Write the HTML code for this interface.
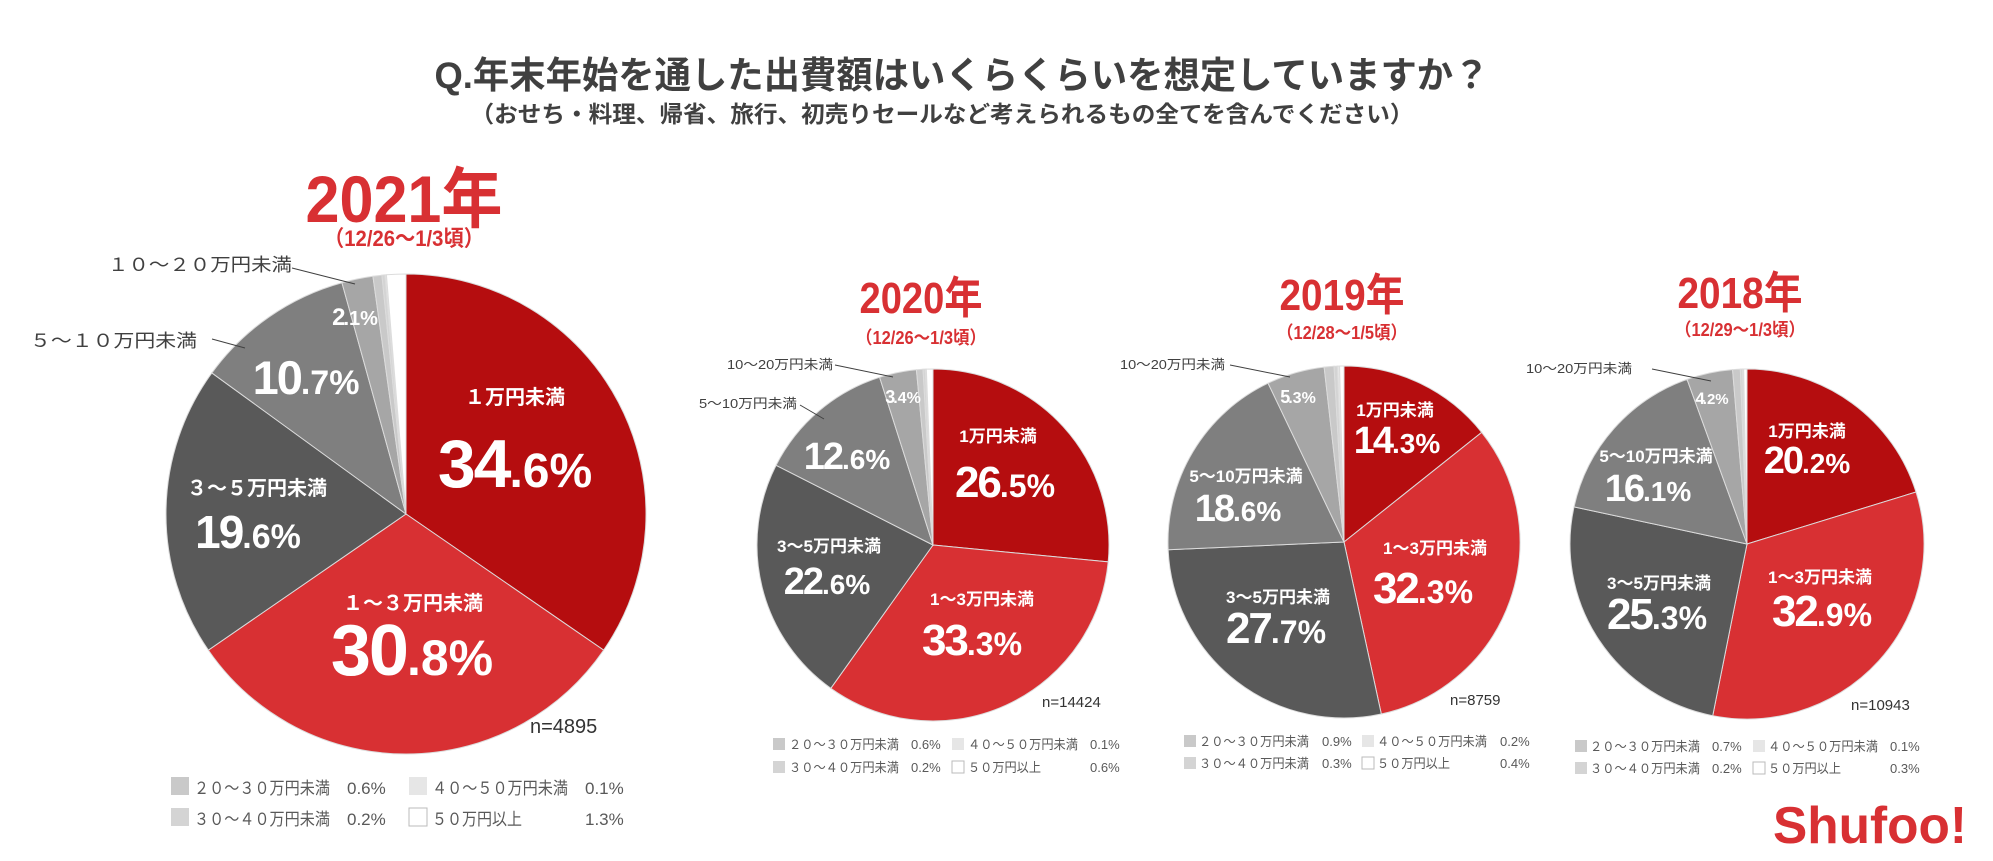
<!DOCTYPE html>
<html><head><meta charset="utf-8"><style>
body{margin:0;background:#fff;}
svg{display:block;font-family:"Liberation Sans","Noto Sans CJK JP",sans-serif;}
</style></head><body>
<svg id="c" width="1993" height="861" viewBox="0 0 1993 861">
<text x="962" y="88" text-anchor="middle" font-size="37" font-weight="bold" fill="#404040" textLength="1055" lengthAdjust="spacingAndGlyphs">Q.年末年始を通した出費額はいくらくらいを想定していますか？</text>
<text x="942" y="122" text-anchor="middle" font-size="23" font-weight="bold" fill="#404040" textLength="943" lengthAdjust="spacingAndGlyphs">（おせち・料理、帰省、旅行、初売りセールなど考えられるもの全てを含んでください）</text>
<g id="pies"></g>
<text x="1870" y="843" text-anchor="middle" font-size="52" font-weight="bold" fill="#d83033" textLength="194" lengthAdjust="spacingAndGlyphs">Shufoo!</text>
</svg>
<script>
const categories=["1万円未満","1～3万円未満","3～5万円未満","5～10万円未満","10～20万円未満","20～30万円未満","30～40万円未満","40～50万円未満","50万円以上"];
const years=["2021年","2020年","2019年","2018年"];
const periods=["（12/26～1/3頃）","（12/26～1/3頃）","（12/28～1/5頃）","（12/29～1/3頃）"];
const sampleSizes=["n=4895","n=14424","n=8759","n=10943"];
const values2021=[34.6,30.8,19.6,10.7,2.1,0.6,0.2,0.1,1.3];
const values2020=[26.5,33.3,22.6,12.6,3.4,0.6,0.2,0.1,0.6];
const values2019=[14.3,32.3,27.7,18.6,5.3,0.9,0.3,0.2,0.4];
const values2018=[20.2,32.9,25.3,16.1,4.2,0.7,0.2,0.1,0.3];
const allValues=[values2021,values2020,values2019,values2018];
const colors=["#b50d0f","#d83033","#595959","#7f7f7f","#a6a6a6","#c9c9c9","#d4d4d4","#e6e6e6","#ffffff"];
const NS="http://www.w3.org/2000/svg";
const root=document.getElementById('pies');
function el(tag,attrs,parent,txt){const e=document.createElementNS(NS,tag);for(const k in attrs)e.setAttribute(k,attrs[k]);if(txt!==undefined)e.textContent=txt;(parent||root).appendChild(e);return e;}
const geo=[
 {cx:406,cy:514,rx:240,ry:240,yx:404,yy:222,yfs:66,yw:197,dy:246,dfs:22,dw:160,
  n:[530,733,20],leg:{x1:171,x2:409,y1:777,y2:808,s:18,fs:17,tx:23,vx:176,tw:136,tw2:90},
  out:[[4,"１０～２０万円未満",108,271,292,268,355,284,18,184],[3,"５～１０万円未満",30,347,212,339,245,348,18,167]],
  inl:[[0,"１万円未満",515,404,20,"34",".6%",487,515,68,48],[1,"１～３万円未満",413,610,20,"30",".8%",675,412,72,50],[2,"３～５万円未満",257,495,20,"19",".6%",548,248,46,34],[3,null,0,0,0,"10",".7%",394,306,47,34],[4,null,0,0,0,"2",".1%",325,355,24,20]]},
 {cx:933,cy:545,rx:176,ry:176,yx:921,yy:313,yfs:44,yw:123,dy:344,dfs:18,dw:130,
  n:[1042,707,15],leg:{x1:773,x2:952,y1:738,y2:761,s:12,fs:13,tx:16,vx:138,tw:110,tw2:73},
  out:[[4,"10～20万円未満",727,369,835,365,893,377,13,106],[3,"5～10万円未満",699,408,800,405,824,419,13,98]],
  inl:[[0,"1万円未満",998,442,17,"26",".5%",497,1005,44,32],[1,"1～3万円未満",982,605,17,"33",".3%",655,972,44,32],[2,"3～5万円未満",829,552,17,"22",".6%",594,827,38,28],[3,null,0,0,0,"12",".6%",469,847,38,28],[4,null,0,0,0,"3",".4%",403,903,18,16]]},
 {cx:1344,cy:542,rx:176,ry:176,yx:1342,yy:310,yfs:44,yw:125,dy:339,dfs:18,dw:130,
  n:[1450,705,15],leg:{x1:1184,x2:1362,y1:735,y2:757,s:12,fs:13,tx:15,vx:138,tw:110,tw2:73},
  out:[[4,"10～20万円未満",1120,369,1230,365,1290,377,13,105]],
  inl:[[0,"1万円未満",1395,416,17,"14",".3%",453,1397,38,28],[1,"1～3万円未満",1435,554,17,"32",".3%",603,1423,44,32],[2,"3～5万円未満",1278,603,17,"27",".7%",643,1276,44,32],[3,"5～10万円未満",1246,482,17,"18",".6%",521,1238,38,28],[4,null,0,0,0,"5",".3%",403,1298,18,16]]},
 {cx:1747,cy:544,rx:177,ry:175,yx:1740,yy:308,yfs:44,yw:125,dy:336,dfs:18,dw:130,
  n:[1851,710,15],leg:{x1:1575,x2:1753,y1:740,y2:762,s:12,fs:13,tx:15,vx:137,tw:110,tw2:73},
  out:[[4,"10～20万円未満",1526,373,1652,369,1711,381,13,106]],
  inl:[[0,"1万円未満",1807,437,17,"20",".2%",473,1807,38,28],[1,"1～3万円未満",1820,583,17,"32",".9%",626,1822,44,32],[2,"3～5万円未満",1659,589,17,"25",".3%",629,1657,44,32],[3,"5～10万円未満",1656,462,17,"16",".1%",501,1648,38,28],[4,null,0,0,0,"4",".2%",404,1712,17,15]]}
];
allValues.forEach((vals,ci)=>{
  const g=geo[ci];
  const total=vals.reduce((a,b)=>a+b,0);
  const grp=el('g',{});
  
  
  let a0=0;
  vals.forEach((v,i)=>{
    const a1=a0+v/total*2*Math.PI;
    const x0=g.cx+g.rx*Math.sin(a0),y0=g.cy-g.ry*Math.cos(a0);
    const x1=g.cx+g.rx*Math.sin(a1),y1=g.cy-g.ry*Math.cos(a1);
    const large=(a1-a0)>Math.PI?1:0;
    const p=el('path',{d:`M${g.cx},${g.cy}L${x0},${y0}A${g.rx},${g.ry} 0 ${large} 1 ${x1},${y1}Z`,fill:colors[i],stroke:"#dcdcdc","stroke-width":1},grp);
    
    
    a0=a1;
  });
  const yt=el('text',{x:g.yx,y:g.yy,'text-anchor':'middle','font-size':g.yfs,'font-weight':'bold',fill:'#d83033',textLength:g.yw,lengthAdjust:'spacingAndGlyphs'},grp,years[ci]);
  
  
  const dt=el('text',{x:g.yx,y:g.dy,'text-anchor':'middle','font-size':g.dfs,'font-weight':'bold',fill:'#d83033',textLength:g.dw,lengthAdjust:'spacingAndGlyphs'},grp,periods[ci]);
  
  
  const nt=el('text',{x:g.n[0],y:g.n[1],'font-size':g.n[2],fill:'#333'},grp,sampleSizes[ci]);
  
  
  g.out.forEach(o=>{
    const t=el('text',{x:o[2],y:o[3],'font-size':o[8],fill:'#404040',textLength:o[9],lengthAdjust:'spacingAndGlyphs'},grp,o[1]);
    
    
    const l=el('line',{x1:o[4],y1:o[5],x2:o[6],y2:o[7],stroke:'#404040','stroke-width':1},grp);
    
    
  });
  g.inl.forEach(o=>{
    if(o[1]){
      const t=el('text',{x:o[2],y:o[3],'text-anchor':'middle','font-size':o[4],'font-weight':'bold',fill:'#fff'},grp,o[1]);
      
      
    }
    const t=el('text',{x:o[8],y:o[7],'text-anchor':'middle','font-weight':'bold',fill:'#fff'},grp);
    
    
    el('tspan',{'font-size':o[9],'letter-spacing':'-2'},t,String(vals[o[0]]).split('.')[0]);
    el('tspan',{'font-size':o[10]},t,'.'+String(vals[o[0]]).split('.')[1]+'%');
  });
  const L=g.leg;
  const items=[[5,"２０～３０万円未満",L.x1,L.y1,L.tw],[6,"３０～４０万円未満",L.x1,L.y2,L.tw],[7,"４０～５０万円未満",L.x2,L.y1,L.tw],[8,"５０万円以上",L.x2,L.y2,L.tw2]];
  items.forEach(it=>{
    const r=el('rect',{x:it[2],y:it[3],width:L.s,height:L.s,fill:colors[it[0]],stroke:it[0]===8?'#bbb':'none'},grp);
    
    
    const t=el('text',{x:it[2]+L.tx,y:it[3]+L.s-1,'font-size':L.fs,fill:'#595959',textLength:it[4],lengthAdjust:'spacingAndGlyphs'},grp,it[1]);
    
    
    const v=el('text',{x:it[2]+L.vx,y:it[3]+L.s-1,'font-size':L.fs,fill:'#595959'},grp,vals[it[0]].toFixed(1)+'%');
    
    
  });
});
</script>
</body></html>
